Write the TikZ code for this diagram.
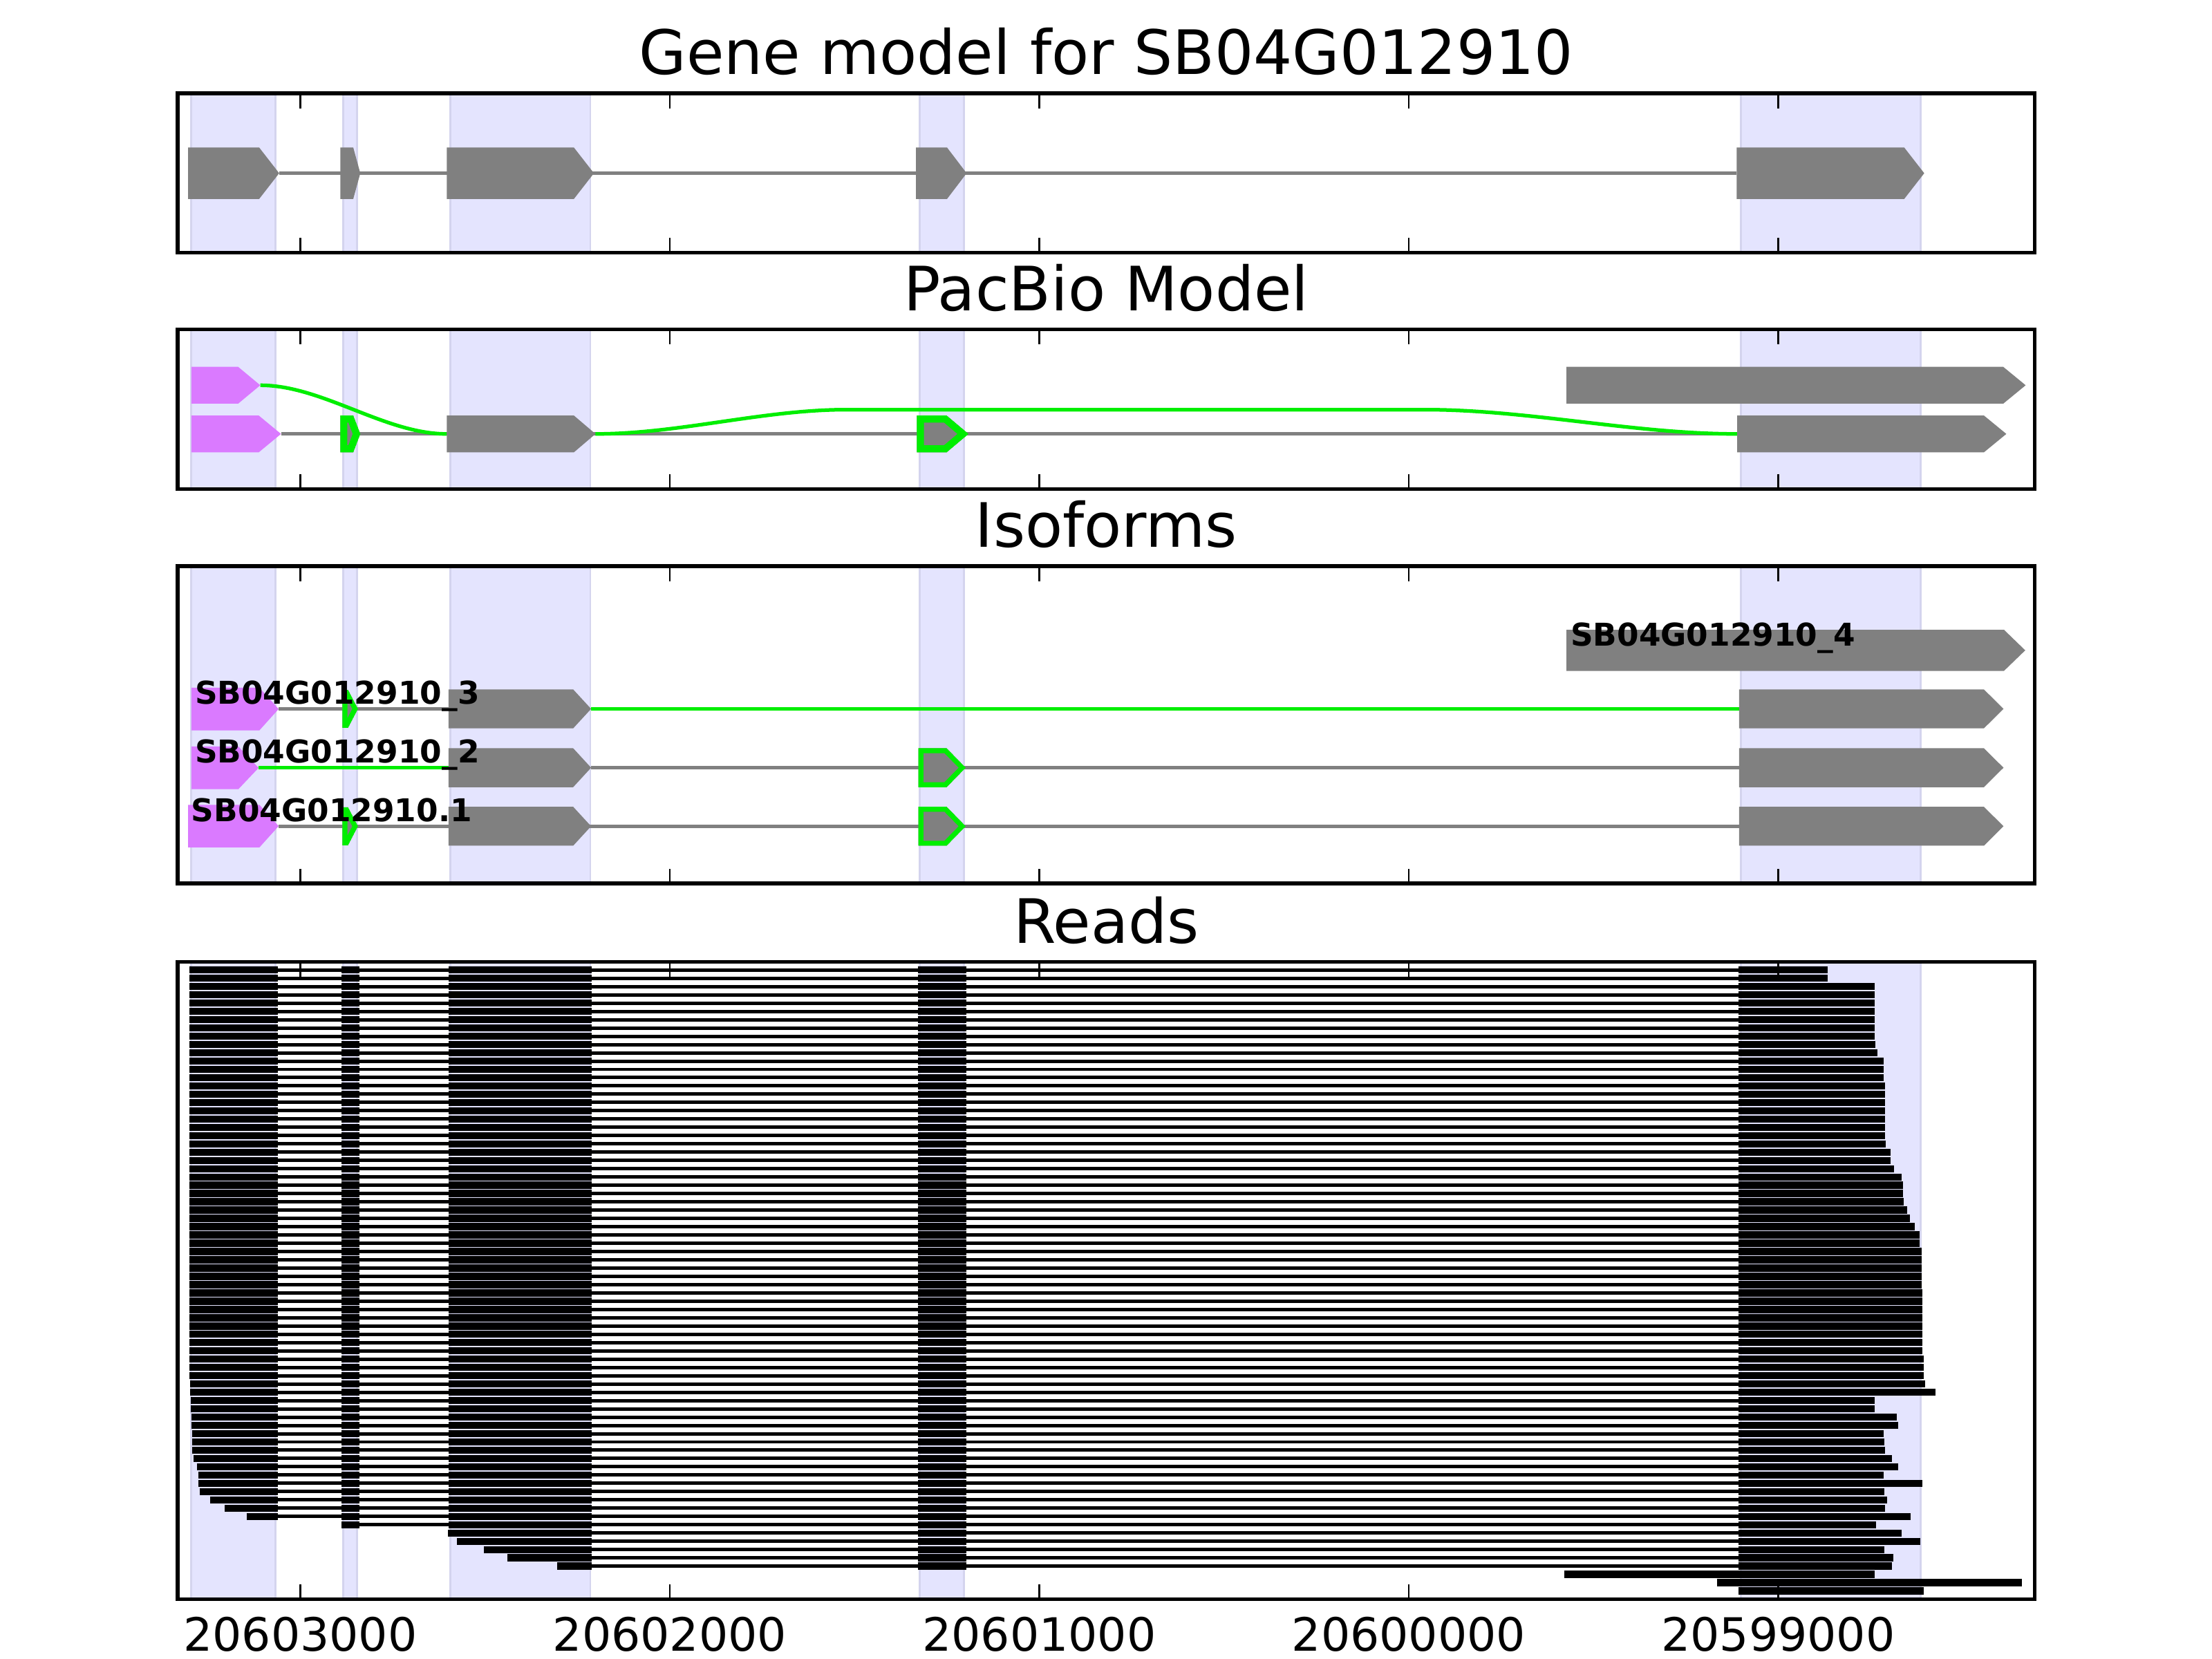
\documentclass[tikz,border=0pt]{standalone}
\usepackage{fontspec}
\setmainfont{DejaVu Sans}
\definecolor{exgray}{RGB}{128,128,128}
\definecolor{mag}{RGB}{218,122,255}
\definecolor{grn}{RGB}{0,238,0}
\definecolor{lav}{RGB}{228,228,254}
\definecolor{lavedge}{RGB}{212,212,238}
\newcommand\pent[5]{({#1},{#4-#5}) -- ({#2},{#4-#5}) -- ({#3},{#4}) -- ({#2},{#4+#5}) -- ({#1},{#4+#5}) -- cycle}
\newcommand\gpent[6]{\begin{scope}\clip\pent{#1}{#2}{#3}{#4}{#5};\fill[exgray]\pent{#1}{#2}{#3}{#4}{#5};\draw[grn,line width=#6,line join=miter]\pent{#1}{#2}{#3}{#4}{#5};\end{scope}}
\begin{document}
\begin{tikzpicture}[x=0.36874pt,y=-0.36874pt,
  intronline/.style={exgray,line width=0.95pt},
  greenline/.style={grn,line width=0.95pt},
  readline/.style={black,line width=0.9pt},
  readblock/.style={black,line width=1.88pt},
  frame/.style={black,line width=1pt},
  tickmark/.style={black,line width=0.5pt},
  paneltitle/.style={anchor=base,inner sep=0pt,font=\fontsize{16}{19}\selectfont},
  ticklabel/.style={anchor=base,inner sep=0pt,font=\fontsize{12}{14}\selectfont},
  isolabel/.style={anchor=base west,inner sep=0pt,font=\fontsize{8.2}{10}\selectfont\bfseries}]
\useasboundingbox[fill=white] (0,0) rectangle (1568,1176);

% shaded exon columns
\foreach \t/\bt in {66.2/179.2, 233.6/346.6, 401.3/626.3, 681.9/1133.5}{
  \foreach \a/\b in {135.5/195.3, 243.4/253.2, 319.3/418.4, 651.9/683.2, 1234/1361.5}{
    \filldraw[fill=lav,draw=lavedge,line width=0.5pt] (\a,\t) rectangle (\b,\bt);
  }
}

% ---------- panel 1: gene model ----------
\draw[intronline] (197.9,122.8) -- (1231,122.8);
\fill[exgray] \pent{133.3}{183.7}{197.9}{122.8}{18.25};
\fill[exgray] \pent{241.2}{250.4}{255.4}{122.8}{18.25};
\fill[exgray] \pent{316.7}{406.8}{421}{122.8}{18.25};
\fill[exgray] \pent{649.3}{671.3}{685.2}{122.8}{18.25};
\fill[exgray] \pent{1231}{1349.8}{1364}{122.8}{18.25};

% ---------- panel 2: PacBio model ----------
\draw[intronline] (199.2,307.6) -- (1231.4,307.6);
\draw[greenline] (184.5,273.1) .. controls (228.6,273.1) and (272.6,307.6) .. (316.7,307.6);
\draw[greenline] (422.1,307.6) .. controls (481.4,307.6) and (540.7,290.4) .. (600,290.4)
  -- (1010,290.4) .. controls (1083.8,290.4) and (1157.6,307.6) .. (1231.4,307.6);
\fill[mag] \pent{135.7}{168.8}{184.5}{273.1}{13.05};
\fill[exgray] \pent{1110.4}{1420}{1435.9}{273.1}{13.05};
\fill[mag] \pent{135.7}{183.4}{199.2}{307.6}{13.05};
\gpent{241.2}{250.4}{255.4}{307.6}{13.05}{3.69pt}
\fill[exgray] \pent{316.7}{406.8}{422.1}{307.6}{13.05};
\gpent{649.9}{671}{686.5}{307.6}{13.05}{3.69pt}
\fill[exgray] \pent{1231.4}{1406.3}{1422.2}{307.6}{13.05};

% ---------- panel 3: isoforms ----------
% row A
\fill[exgray] \pent{1110.4}{1420.5}{1435.6}{461}{14.6};
% row B
\draw[intronline] (197.5,502.5) -- (318,502.5);
\draw[greenline] (419,502.5) -- (1232.8,502.5);
\fill[mag] \pent{135.7}{183.9}{197.5}{502.6}{15.1};
\gpent{242.7}{246.7}{253.7}{502.5}{13.45}{2.6pt}
\fill[exgray] \pent{318}{406.3}{419}{502.5}{13.8};
\fill[exgray] \pent{1232.8}{1406.3}{1420.2}{502.5}{13.8};
% row C
\draw[greenline] (183.3,544.2) -- (318,544.2);
\draw[intronline] (419,544.2) -- (1232.8,544.2);
\fill[mag] \pent{135.7}{169}{183.3}{544.3}{15.1};
\fill[exgray] \pent{318}{406.3}{419}{544.2}{13.8};
\gpent{651}{671}{684.5}{544.2}{13.8}{2.6pt}
\fill[exgray] \pent{1232.8}{1406.3}{1420.2}{544.2}{13.8};
% row D
\draw[intronline] (197.5,585.7) -- (1232.8,585.7);
\fill[mag] \pent{133.3}{183.9}{197.5}{585.6}{15.1};
\gpent{242.7}{246.7}{253.7}{585.7}{13.45}{2.6pt}
\fill[exgray] \pent{318}{406.3}{419}{585.7}{13.8};
\gpent{651}{671}{684.5}{585.7}{13.8}{2.6pt}
\fill[exgray] \pent{1232.8}{1406.3}{1420.2}{585.7}{13.8};
% labels
\node[isolabel] (lab4) at (1112.8,458.1) {SB04G012910\_4};
\node[isolabel] (lab3) at (137.7,499) {SB04G012910\_3};
\node[isolabel] (lab2) at (137.7,540.6) {SB04G012910\_2};
\node[isolabel] (lab1) at (135.1,582.3) {SB04G012910.1};

% ---------- panel 4: reads ----------
\foreach \k/\L/\R in {1/134.2/1295.4, 2/134.2/1295.4, 3/134.2/1328.7, 4/134.2/1329, 5/134.2/1329,
  6/134.2/1329, 7/134.2/1329, 8/134.2/1329, 9/134.2/1329, 10/134.2/1329.5,
  11/134.2/1330.7, 12/134.2/1335.1, 13/134.2/1335.4, 14/134.2/1335.4, 15/134.2/1336,
  16/134.2/1336, 17/134.2/1336, 18/134.2/1336, 19/134.2/1336, 20/134.2/1336,
  21/134.2/1336.3, 22/134.2/1336.9, 23/134.2/1340, 24/134.2/1340, 25/134.2/1342.5,
  26/134.2/1348.1, 27/134.2/1348.8, 28/134.2/1348.8, 29/134.2/1349.6, 30/134.2/1351.7,
  31/134.2/1353.7, 32/134.2/1357.4, 33/134.2/1360.9, 34/134.2/1360.9, 35/134.2/1362,
  36/134.2/1362, 37/134.2/1362.3, 38/134.2/1362.3, 39/134.2/1362.3, 40/134.2/1362.8,
  41/134.2/1362.8, 42/134.2/1362.8, 43/134.2/1362.8, 44/134.2/1362.7, 45/134.2/1362.7,
  46/134.2/1362.7, 47/134.2/1362.7, 48/134.2/1363.7, 49/134.2/1363.7, 50/134.3/1363.7,
  51/134.8/1364.6, 52/134.8/1371.8, 53/135.4/1329.1, 54/135.4/1329.1, 55/135.7/1344.5,
  56/135.7/1345.5, 57/136.4/1335.2, 58/136.4/1335.9, 59/136.4/1336.4, 60/137/1341.3,
  61/139.5/1345.5, 62/140.4/1335.2, 63/140.4/1362.7, 64/141.4/1335.9, 65/148.9/1337.7,
  66/159.2/1336.4, 67/174.8/1354.2}{
  \pgfmathsetmacro\yy{687.6+(\k-1)*5.869}
  \draw[readline] (\L,\yy) -- (\R,\yy);
  \draw[readblock] (\L,\yy) -- (196.8,\yy) (242,\yy) -- (254.6,\yy) (317.8,\yy) -- (419.5,\yy)
    (650.5,\yy) -- (685,\yy) (1232.4,\yy) -- (\R,\yy);
}
% row 68 starts in the second exon
\pgfmathsetmacro\yy{687.6+67*5.869}
\draw[readline] (242,\yy) -- (1329.6,\yy);
\draw[readblock] (242,\yy) -- (254.6,\yy) (317.8,\yy) -- (419.5,\yy)
  (650.5,\yy) -- (685,\yy) (1232.4,\yy) -- (1329.6,\yy);
% rows 69-73 start in the third exon
\foreach \k/\L/\R in {69/317.6/1347.9, 70/323.8/1361.3, 71/343.2/1335.9, 72/359.8/1342, 73/395.1/1341.3}{
  \pgfmathsetmacro\yy{687.6+(\k-1)*5.869}
  \draw[readline] (\L,\yy) -- (\R,\yy);
  \draw[readblock] (\L,\yy) -- (419.5,\yy) (650.5,\yy) -- (685,\yy) (1232.4,\yy) -- (\R,\yy);
}
% single block reads
\foreach \k/\L/\R in {74/1109/1329.1, 75/1216.9/1433.2, 76/1232.4/1363.7}{
  \pgfmathsetmacro\yy{687.6+(\k-1)*5.869}
  \draw[readblock] (\L,\yy) -- (\R,\yy);
}

% ---------- ticks and frames ----------
\foreach \t/\bt in {66.2/179.2, 233.6/346.6, 401.3/626.3, 681.9/1133.5}{
  \foreach \tx in {212.9,474.8,736.7,998.6,1260.5}{
    \draw[tickmark] (\tx,\t) -- (\tx,\t+10.6);
    \draw[tickmark] (\tx,\bt) -- (\tx,\bt-10.6);
  }
  \draw[frame] (126,\t) rectangle (1442.4,\bt);
}

% titles
\node[paneltitle] (title1) at (784.2,52.9) {Gene model for SB04G012910};
\node[paneltitle] (title2) at (784.2,220.3) {PacBio Model};
\node[paneltitle] (title3) at (784.2,388) {Isoforms};
\node[paneltitle] (title4) at (784.2,668.6) {Reads};

% tick labels
\node[ticklabel] (tl1) at (212.9,1170.3) {20603000};
\node[ticklabel] (tl2) at (474.8,1170.3) {20602000};
\node[ticklabel] (tl3) at (736.7,1170.3) {20601000};
\node[ticklabel] (tl4) at (998.6,1170.3) {20600000};
\node[ticklabel] (tl5) at (1260.5,1170.3) {20599000};
\end{tikzpicture}
\end{document}
